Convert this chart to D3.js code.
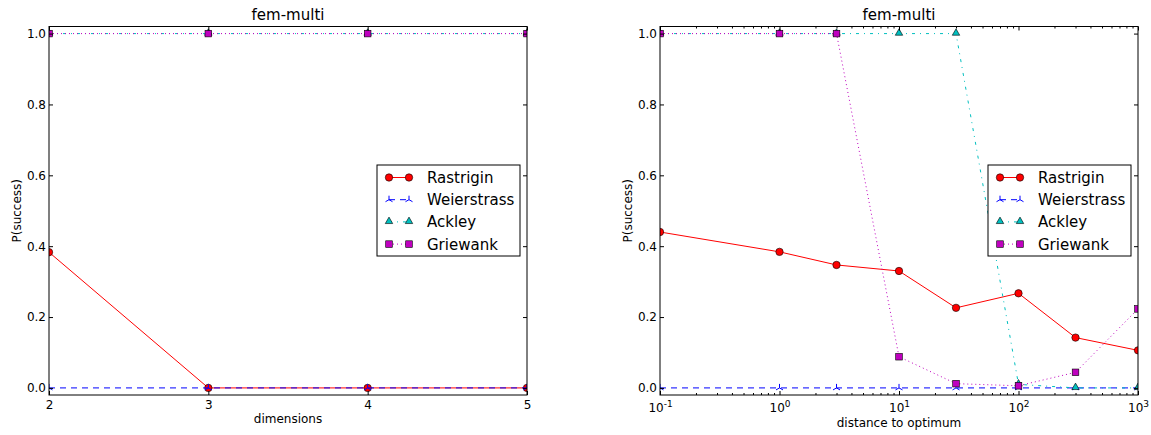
<!DOCTYPE html>
<html>
<head>
<meta charset="utf-8">
<script src="https://cdn.jsdelivr.net/npm/d3@7"></script>
<style>
  html, body { margin: 0; padding: 0; background: #fff; }
  svg { display: block; font-family: "DejaVu Sans", sans-serif; }
</style>
</head>
<body>
<svg id="chart" width="1151" height="435"></svg>
<script>
// ---------- data ----------
const seriesNames = ["Rastrigin", "Weierstrass", "Ackley", "Griewank"];

const dimensions = [2, 3, 4, 5];
const rastriginDim = [0.383, 0, 0, 0];
const weierstrassDim = [0, 0, 0, 0];
const ackleyDim = [1, 1, 1, 1];
const griewankDim = [1, 1, 1, 1];

const distances = [0.1, 1, 3, 10, 30, 100, 300, 1000];
const rastriginDist = [0.44, 0.384, 0.347, 0.33, 0.226, 0.267, 0.142, 0.106];
const weierstrassDist = [0, 0, 0, 0, 0, 0, 0, 0];
const ackleyDist = [1, 1, 1, 1, 1, 0.01, 0, 0];
const griewankDist = [1, 1, 1, 0.088, 0.012, 0.006, 0.044, 0.223];

const yTicks = [0, 0.2, 0.4, 0.6, 0.8, 1.0];
const dimTicks = [2, 3, 4, 5];
const distTicks = [0.1, 1, 10, 100, 1000];
const distTickExp = ["-1", "0", "1", "2", "3"];
const titleText = "fem-multi";
const yLabel = "P(success)";
const xLabelDim = "dimensions";
const xLabelDist = "distance to optimum";

// ---------- styles ----------
const styles = [
  { color: "#ff0000", dash: null, marker: "circle" },
  { color: "#0000ff", dash: "6,5", marker: "tri" },
  { color: "#00bfbf", dash: "3,5,1,5", marker: "triangle" },
  { color: "#bf00bf", dash: "1,3", marker: "square" }
];

const svg = d3.select("#chart");
const plotTop = 26.5, plotBottom = 395;
const y = d3.scaleLinear().domain([-0.02, 1.02]).range([plotBottom, plotTop]);

function drawMarker(g, type, color, cx, cy) {
  if (type === "circle") {
    g.append("circle").attr("cx", cx).attr("cy", cy).attr("r", 3.7)
      .attr("fill", color).attr("stroke", "#000").attr("stroke-width", 0.6);
  } else if (type === "square") {
    g.append("rect").attr("x", cx - 3.3).attr("y", cy - 3.3).attr("width", 6.6).attr("height", 6.6)
      .attr("fill", color).attr("stroke", "#000").attr("stroke-width", 0.6);
  } else if (type === "triangle") {
    g.append("path").attr("d", d3.symbol(d3.symbolTriangle, 24)())
      .attr("transform", `translate(${cx},${cy - 0.5})`)
      .attr("fill", color).attr("stroke", "#000").attr("stroke-width", 0.6);
  } else if (type === "tri") {
    g.append("path").attr("d", "M0,0V-4M0,0L-3.5,2M0,0L3.5,2")
      .attr("transform", `translate(${cx},${cy})`)
      .attr("fill", "none").attr("stroke", color).attr("stroke-width", 1);
  }
}

function panel(idx, left, right, x, xs, seriesList, isLog) {
  const g = svg.append("g");
  const clipId = "clip" + idx;
  svg.append("defs").append("clipPath").attr("id", clipId)
    .append("rect").attr("x", left).attr("y", plotTop).attr("width", right - left).attr("height", plotBottom - plotTop);

  const plot = g.append("g").attr("clip-path", `url(#${clipId})`);
  const line = d3.line().x(d => x(d[0])).y(d => y(d[1]));

  seriesList.forEach((vals, i) => {
    const st = styles[i];
    const pts = xs.map((xv, j) => [xv, vals[j]]);
    plot.append("path").attr("d", line(pts)).attr("fill", "none")
      .attr("stroke", st.color).attr("stroke-width", 1)
      .attr("stroke-dasharray", st.dash);
    const mg = plot.append("g");
    pts.forEach(p => drawMarker(mg, st.marker, st.color, x(p[0]), y(p[1])));
  });

  // axes (inward ticks on all sides)
  g.append("g").attr("transform", `translate(${left},0)`)
    .call(d3.axisLeft(y).tickValues(yTicks).tickFormat(d3.format(".1f")).tickSize(-4).tickPadding(3));
  g.append("g").attr("transform", `translate(${right},0)`)
    .call(d3.axisRight(y).tickValues(yTicks).tickFormat("").tickSize(-4));
  if (!isLog) {
    g.append("g").attr("transform", `translate(0,${plotBottom})`)
      .call(d3.axisBottom(x).tickValues(dimTicks).tickFormat(d3.format("d")).tickSize(-4).tickPadding(5));
    g.append("g").attr("transform", `translate(0,${plotTop})`)
      .call(d3.axisTop(x).tickValues(dimTicks).tickFormat("").tickSize(-4));
  } else {
    const minors = [];
    for (let e = -1; e < 3; e++) for (let m = 2; m <= 9; m++) minors.push(m * Math.pow(10, e));
    g.append("g").attr("transform", `translate(0,${plotBottom})`)
      .call(d3.axisBottom(x).tickValues(minors).tickFormat("").tickSize(-2));
    g.append("g").attr("transform", `translate(0,${plotTop})`)
      .call(d3.axisTop(x).tickValues(minors).tickFormat("").tickSize(-2));
    const xb = g.append("g").attr("transform", `translate(0,${plotBottom})`)
      .call(d3.axisBottom(x).tickValues(distTicks).tickFormat(() => "10").tickSize(-4).tickPadding(8));
    g.append("g").attr("transform", `translate(0,${plotTop})`)
      .call(d3.axisTop(x).tickValues(distTicks).tickFormat("").tickSize(-4));
    xb.selectAll(".tick text").each(function(d, i) {
      const t = d3.select(this);
      t.text(null);
      t.append("tspan").text("10");
      t.append("tspan").attr("dy", "-5").attr("font-size", 9).text(distTickExp[i]);
    });
  }
  g.selectAll(".domain").remove();
  g.selectAll(".tick line").attr("stroke", "#000").attr("stroke-width", 1);
  g.selectAll(".tick text").attr("font-size", 12).attr("fill", "#000")
    .attr("font-family", "DejaVu Sans, sans-serif");

  // frame
  g.append("rect").attr("x", left).attr("y", plotTop).attr("width", right - left).attr("height", plotBottom - plotTop)
    .attr("fill", "none").attr("stroke", "#000").attr("stroke-width", 1);

  // title & labels
  const cx = (left + right) / 2;
  g.append("text").attr("x", cx).attr("y", 20).attr("text-anchor", "middle")
    .attr("font-size", 15).text(titleText);
  g.append("text").attr("x", cx).attr("y", isLog ? 427 : 423).attr("text-anchor", "middle")
    .attr("font-size", 12).text(isLog ? xLabelDist : xLabelDim);
  g.append("text").attr("transform", `translate(${left - 28},${(plotTop + plotBottom) / 2}) rotate(-90)`)
    .attr("text-anchor", "middle").attr("font-size", 12).text(yLabel);

  // legend
  const bw = 143, bh = 91;
  const bx = right - 7 - bw, by = 165;
  const lg = g.append("g");
  lg.append("rect").attr("x", bx).attr("y", by).attr("width", bw).attr("height", bh)
    .attr("fill", "#fff").attr("stroke", "#000").attr("stroke-width", 1);
  seriesNames.forEach((name, i) => {
    const st = styles[i];
    const ry = by + 12.5 + i * 22.2;
    lg.append("line").attr("x1", bx + 12).attr("x2", bx + 32).attr("y1", ry).attr("y2", ry)
      .attr("stroke", st.color).attr("stroke-width", 1).attr("stroke-dasharray", st.dash);
    drawMarker(lg, st.marker, st.color, bx + 12, ry);
    drawMarker(lg, st.marker, st.color, bx + 32, ry);
    lg.append("text").attr("x", bx + 50).attr("y", ry).attr("dy", "0.36em")
      .attr("font-size", 15).text(name);
  });
}

const xDim = d3.scaleLinear().domain([2, 5]).range([49, 527]);
const xDist = d3.scaleLog().domain([0.1, 1000]).range([660, 1138]);

panel(0, 49, 527, xDim, dimensions, [rastriginDim, weierstrassDim, ackleyDim, griewankDim], false);
panel(1, 660, 1138, xDist, distances, [rastriginDist, weierstrassDist, ackleyDist, griewankDist], true);
</script>
</body>
</html>
